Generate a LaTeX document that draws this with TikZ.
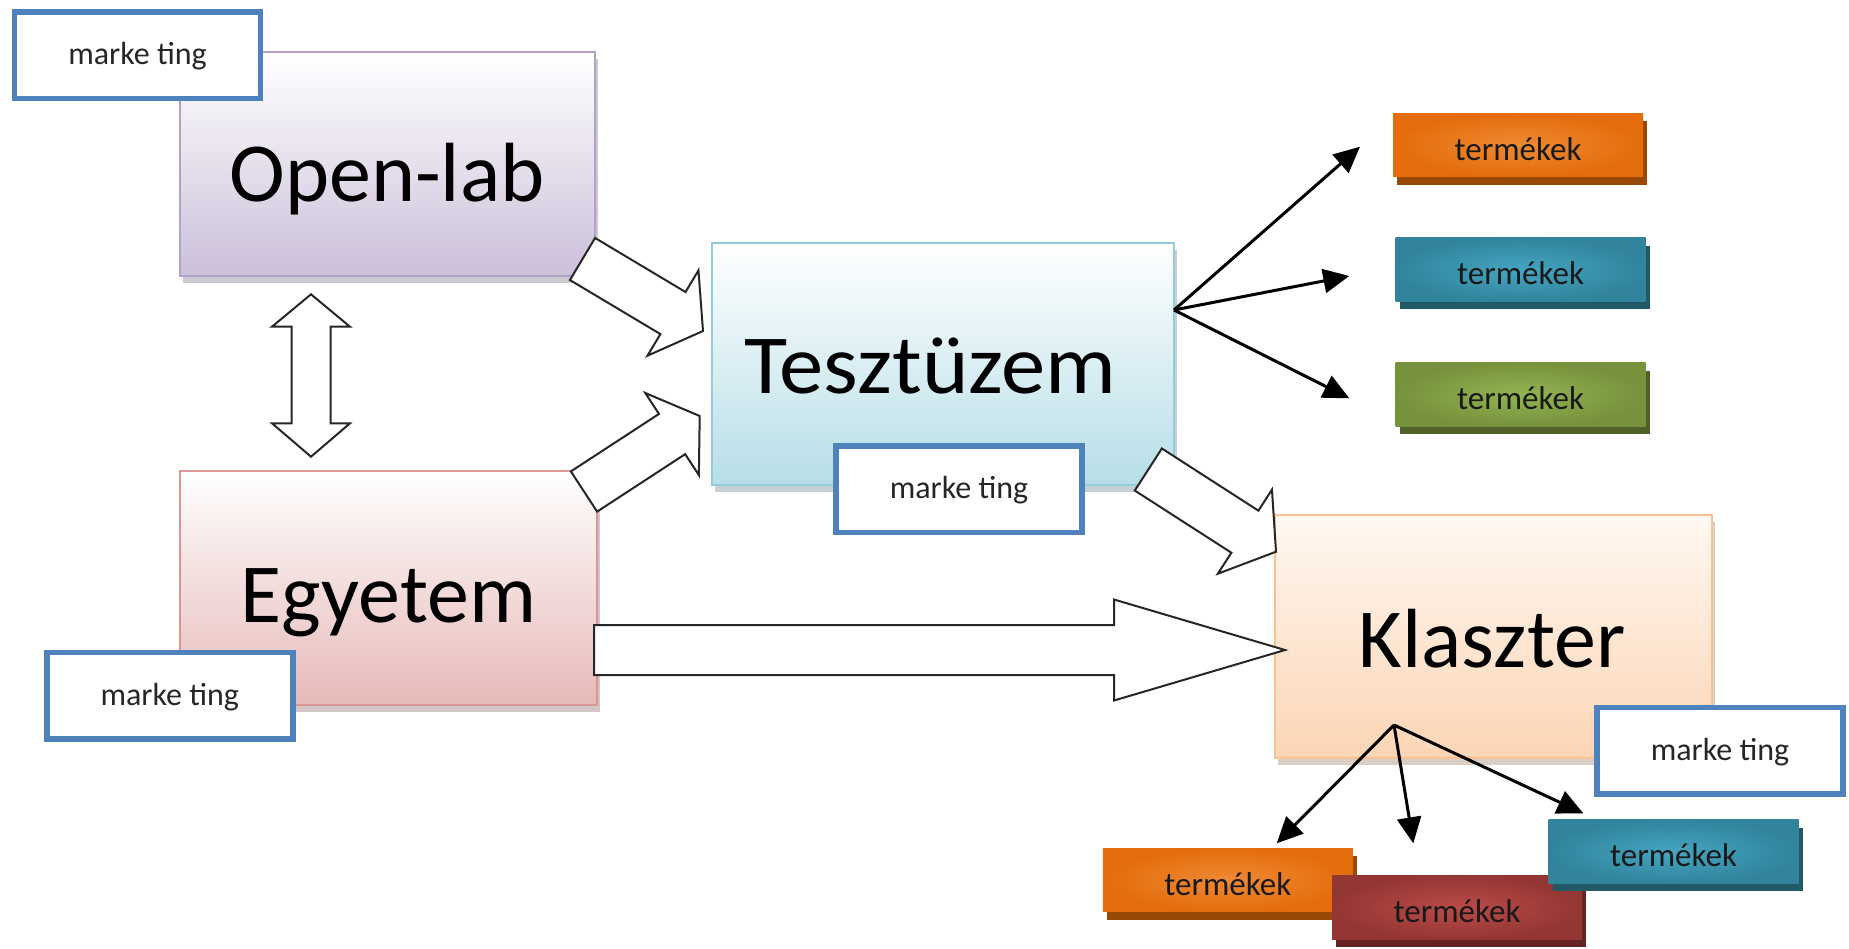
\documentclass[tikz,border=0pt]{standalone}
\usepackage{fontspec}
\setmainfont{Carlito}
\usetikzlibrary{arrows.meta,shadows,calc}
\definecolor{mktblue}{HTML}{4F81BD}
\definecolor{olbord}{HTML}{B3A2C7}
\definecolor{olbot}{HTML}{CCC0DA}
\definecolor{tzbord}{HTML}{93CDDD}
\definecolor{tzbot}{HTML}{B7DEE8}
\definecolor{egbord}{HTML}{D99694}
\definecolor{egbot}{HTML}{E6B9B8}
\definecolor{klbord}{HTML}{FAC090}
\definecolor{kltop}{HTML}{FFF8F2}
\definecolor{klbot}{HTML}{FCD5B5}
\definecolor{orbase}{HTML}{E46C0A}
\definecolor{orlight}{HTML}{EE8A35}
\definecolor{orshadow}{HTML}{984807}
\definecolor{tlbase}{HTML}{31849B}
\definecolor{tllight}{HTML}{45A5C2}
\definecolor{tlshadow}{HTML}{215967}
\definecolor{gnbase}{HTML}{76923C}
\definecolor{gnlight}{HTML}{92B452}
\definecolor{gnshadow}{HTML}{4F6128}
\definecolor{rdbase}{HTML}{943634}
\definecolor{rdlight}{HTML}{BA4B48}
\definecolor{rdshadow}{HTML}{632423}
\definecolor{arrowline}{HTML}{262626}
% #1 start, #2 tip, #3 shaft half width, #4 head half width, #5 head length
\newcommand\blockarrow[5]{%
  \coordinate (ba-b) at ($(#2)!#5!(#1)$);
  \draw[blockarrowstyle] ($(#1)!#3!90:(#2)$) -- ($(ba-b)!#3!90:(#2)$) -- ($(ba-b)!#4!90:(#2)$) -- (#2)
    -- ($(ba-b)!#4!-90:(#2)$) -- ($(ba-b)!#3!-90:(#2)$) -- ($(#1)!#3!-90:(#2)$) -- cycle;
}
\begin{document}
\begin{tikzpicture}[x=1pt,y=-1pt,
  mainbox/.style n args={3}{draw=#1, top color=#2, bottom color=#3, line width=2pt,
    inner sep=0pt, drop shadow={shadow xshift=3pt, shadow yshift=-7pt, fill=#3!70!black, opacity=0.45}},
  bigtext/.style={font=\fontsize{84}{90}\selectfont, inner sep=0pt, anchor=base},
  mkt/.style={draw=mktblue, line width=5.5pt, fill=white, minimum width=246pt, minimum height=86.5pt,
    inner sep=0pt, font=\fontsize{32}{36}\selectfont, text=black!85, text height=23pt, text depth=4pt},
  prod/.style n args={3}{inner color=#2, outer color=#1, minimum width=250pt, minimum height=63.5pt,
    inner sep=0pt, font=\fontsize{33}{36}\selectfont, text=black!90, text height=30pt, text depth=0pt,
    drop shadow={shadow xshift=4pt, shadow yshift=-8pt, fill=#3, opacity=1}},
  blockarrowstyle/.style={fill=white, draw=arrowline, line width=2pt, line join=miter},
  thin/.style={draw=black, line width=3pt, -{Triangle[length=26pt,width=24pt]}}
]
\fill[white] (0,0) rectangle (1849,948);
\useasboundingbox (0,0) rectangle (1849,948);

% main boxes
\node[mainbox={olbord}{white}{olbot}, minimum width=415pt, minimum height=224pt] (openlab) at (387.5,164) {};
\node[mainbox={tzbord}{white}{tzbot}, minimum width=462pt, minimum height=242pt] (teszt) at (943,364) {};
\node[mainbox={egbord}{white}{egbot}, minimum width=417pt, minimum height=234pt] (egyetem) at (388.5,588) {};
\node[mainbox={klbord}{kltop}{klbot}, minimum width=437pt, minimum height=243pt] (klaszter) at (1493.5,636.5) {};

\node[bigtext] (openlab-t) at (387,201) {Open-lab};
\node[bigtext, xscale=1.055, transform shape] (teszt-t) at (930.5,393) {Tesztüzem};
\node[bigtext] (egyetem-t) at (388.5,622) {Egyetem};
\node[bigtext] (klaszter-t) at (1492,667) {Klaszter};

% block arrows
\coordinate (a1s) at (582.5,259);  \coordinate (a1t) at (703,331);
\coordinate (a2s) at (584,491.5);  \coordinate (a2t) at (699.7,416);
\coordinate (a3s) at (1148.3,469.5); \coordinate (a3t) at (1276,551.7);
\coordinate (a4s) at (594,650);    \coordinate (a4t) at (1285,650);
\blockarrow{a1s}{a1t}{24.5pt}{49.7pt}{35pt}
\blockarrow{a2s}{a2t}{24pt}{49pt}{33pt}
\blockarrow{a3s}{a3t}{25pt}{50pt}{37pt}
\blockarrow{a4s}{a4t}{25pt}{50.5pt}{171pt}
% double arrow between Open-lab and Egyetem
\draw[blockarrowstyle] (311,294.3) -- (350,326.7) -- (330.5,326.7) -- (330.5,423.3) -- (350,423.3)
  -- (311,456.7) -- (272,423.3) -- (291.5,423.3) -- (291.5,326.7) -- (272,326.7) -- cycle;

% marketing boxes
\node[mkt] (m1) at (137.5,55) {marke ting};
\node[mkt] (m2) at (959,489) {marke ting};
\node[mkt] (m3) at (169.75,695.5) {marke ting};
\node[mkt] (m4) at (1720,750.5) {marke ting};

% thin arrows
\coordinate (tfan) at (1174,310);
\coordinate (tf1) at (1360,146.7);
\coordinate (tf2) at (1349.3,276);
\coordinate (tf3) at (1349.3,398.3);
\draw[thin] (tfan) -- (tf1);
\draw[thin] (tfan) -- (tf2);
\draw[thin] (tfan) -- (tf3);
\coordinate (kfan) at (1394,725);
\coordinate (kf1) at (1276.7,843.3);
\coordinate (kf2) at (1413.3,843.3);
\coordinate (kf3) at (1583.3,813.3);
\draw[thin] (kfan) -- (kf1);
\draw[thin] (kfan) -- (kf2);
\draw[thin] (kfan) -- (kf3);

% products
\node[prod={orbase}{orlight}{orshadow}] (tr1) at (1518,145) {termékek};
\node[prod={tlbase}{tllight}{tlshadow}] (tr2) at (1520.5,269.5) {termékek};
\node[prod={gnbase}{gnlight}{gnshadow}] (tr3) at (1520.5,394.5) {termékek};
\node[prod={orbase}{orlight}{orshadow}] (tb1) at (1227.75,880) {termékek};
\node[prod={rdbase}{rdlight}{rdshadow}] (tb2) at (1457,907.5) {termékek};
\node[prod={tlbase}{tllight}{tlshadow}] (tb3) at (1673.5,851.7) {termékek};
\end{tikzpicture}
\end{document}
